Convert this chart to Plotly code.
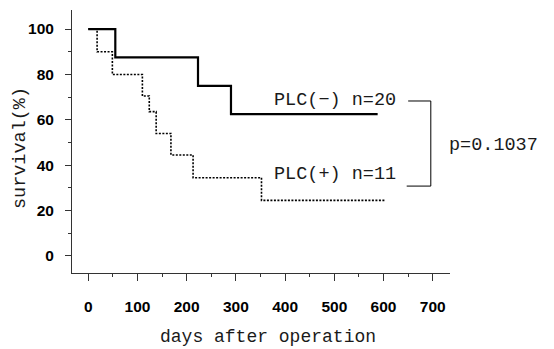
import plotly.graph_objects as go

# Kaplan-Meier steps
neg_days = [0, 55, 223, 290, 588]
neg_surv = [100, 87.5, 75, 62.5, 62.5]
pos_days = [0, 18, 49, 110, 124, 138, 168, 213, 352, 602]
pos_surv = [100, 90.0, 80.0, 70.5, 63.6, 54.0, 44.5, 34.5, 24.5, 24.5]

neg_label = "PLC(−) n=20"
pos_label = "PLC(+) n=11"
p_label = "p=0.1037"
x_ticks = [0, 100, 200, 300, 400, 500, 600, 700]
y_ticks = [0, 20, 40, 60, 80, 100]

mono = "Liberation Mono"
txt_col = "#1a1a1a"
tick_font = dict(family="Liberation Sans", size=15.5, color="black", weight="bold")
fig = go.Figure()
fig.add_trace(go.Scatter(x=neg_days, y=neg_surv, mode="lines", line_shape="hv",
                         line=dict(color="black", width=2.2), showlegend=False))
fig.add_trace(go.Scatter(x=pos_days, y=pos_surv, mode="lines", line_shape="hv",
                         line=dict(color="black", width=1.6, dash="2px,1.5px"), showlegend=False))

# bracket (data coords)
bx0, bx1 = 650, 696
by_top, by_bot = 68.3, 30.8
fig.add_shape(type="line", x0=bx0, x1=bx1, y0=by_top, y1=by_top, line=dict(color="black", width=1))
fig.add_shape(type="line", x0=bx1, x1=bx1, y0=by_top, y1=by_bot, line=dict(color="black", width=1))
fig.add_shape(type="line", x0=bx0 - 3, x1=bx1, y0=by_bot, y1=by_bot, line=dict(color="black", width=1))

fig.add_annotation(x=373, y=68.7, text=neg_label, showarrow=False, xanchor="left", yanchor="middle",
                   font=dict(family=mono, size=18.5, color=txt_col))
fig.add_annotation(x=373, y=35.7, text=pos_label, showarrow=False, xanchor="left", yanchor="middle",
                   font=dict(family=mono, size=18.5, color=txt_col))
fig.add_annotation(x=728, y=48.9, text=p_label, showarrow=False, xanchor="left", yanchor="middle",
                   font=dict(family=mono, size=18.5, color=txt_col))

fig.add_annotation(xref="paper", yref="paper", x=0.519, y=-0.243, text="days after operation",
                   showarrow=False, xanchor="center", yanchor="middle",
                   font=dict(family=mono, size=18, color=txt_col))
fig.add_annotation(xref="paper", yref="paper", x=-0.1376, y=0.475, text="survival(%)",
                   showarrow=False, xanchor="center", yanchor="middle", textangle=-90,
                   font=dict(family=mono, size=18.5, color=txt_col))

fig.update_xaxes(range=[-33, 735], tickvals=x_ticks, ticks="outside", ticklen=7, tickwidth=1,
                 tickcolor="#333", showline=True, linecolor="#333", linewidth=1, showgrid=False,
                 zeroline=False, ticklabelstandoff=12, tickfont=tick_font,
                 minor=dict(dtick=50, tick0=0, ticks="outside", ticklen=3, tickcolor="#333", showgrid=False))
fig.update_yaxes(range=[-7.5, 108.4], tickvals=y_ticks, ticks="outside", ticklen=6, tickwidth=1,
                 tickcolor="#333", showline=True, linecolor="#333", linewidth=1, showgrid=False,
                 zeroline=False, ticklabelstandoff=8, tickfont=tick_font,
                 minor=dict(dtick=10, tick0=0, ticks="outside", ticklen=3, tickcolor="#333", showgrid=False))

fig.update_layout(width=554, height=349, margin=dict(l=72, r=104, t=10, b=76),
                  plot_bgcolor="white", paper_bgcolor="white")
fig.write_html("out.html")
